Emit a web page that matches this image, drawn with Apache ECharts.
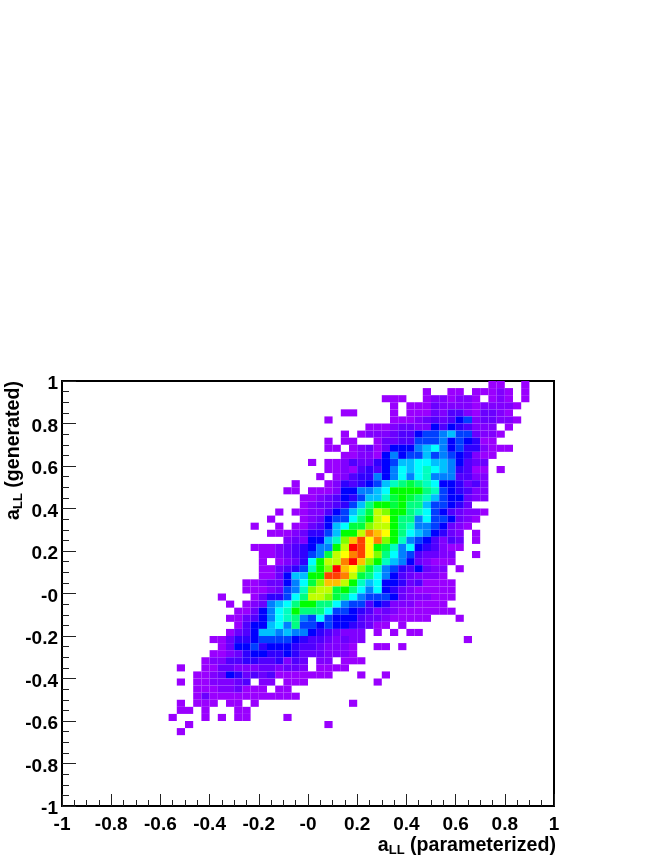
<!DOCTYPE html>
<html>
<head>
<meta charset="utf-8">
<title>aLL</title>
<style>
    html, body { margin: 0; padding: 0; background: #fff; }
    #main { width: 664px; height: 860px; }
</style>
<script src="https://cdn.jsdelivr.net/npm/echarts@6/dist/echarts.min.js"></script>
</head>
<body>
<div id="main"></div>
<script type="text/javascript">
    // tick labels, the original prints -0 rather than 0
    var xTickLabels = ['-1', '-0.8', '-0.6', '-0.4', '-0.2', '-0', '0.2', '0.4', '0.6', '0.8', '1'];
    var yTickLabels = ['-1', '-0.8', '-0.6', '-0.4', '-0.2', '-0', '0.2', '0.4', '0.6', '0.8', '1'];

    var binCount = 60;

    // colour level per bin, 1 (purple) .. l=21 (red)
    var levelColors = ['#9a00ff', '#8000ff', '#6a00ff', '#5000ff', '#3000ff', '#0000ff', '#0040ff',
        '#0080ff', '#00c0ff', '#00ffff', '#00ffc0', '#00ff80', '#00ff40', '#00ff00', '#80ff00',
        '#c0ff00', '#ffff00', '#ffc000', '#ff8000', '#ff4000', '#ff0000'];

    // one entry per row from the top, each run is [first column, levels]
    var binRows = [
        [[52, '11'], [56, '1']],
        [[44, '1'], [47, '11'], [50, '11121'], [56, '1']],
        [[39, '111'], [44, '1221221'], [52, '121'], [56, '1']],
        [[40, '1'], [42, '11132222122221']],
        [[34, '11'], [40, '1'], [42, '1113244213321']],
        [[32, '1'], [40, '1112343467233221']],
        [[37, '1112332264654222'], [54, '1']],
        [[34, '1'], [36, '122234467789773221']],
        [[32, '1'], [34, '11'], [38, '133447778676511']],
        [[32, '11'], [35, '1231366689a867552111']],
        [[34, '1122168677978765211']],
        [[30, '1'], [32, '11243356799aa9986433']],
        [[32, '112145468a9aba985411'], [53, '1']],
        [[31, '1'], [33, '12455868a8ab8884422']],
        [[28, '1'], [32, '12545679bcdcba665342']],
        [[27, '11'], [30, '111266889aeeeecb765422']],
        [[29, '1123465799bdedcb9766322']],
        [[29, '12334579ceedecc977653']],
        [[26, '1'], [28, '11224679bdgfeecba7643221']],
        [[25, '1'], [29, '123677aceghecc8a776321']],
        [[23, '1'], [26, '1'], [28, '113469addfggecb8876321']],
        [[25, '111235579eegjiheca986532'], [50, '1']],
        [[27, '232669bfikhjfeb8764243'], [50, '1']],
        [[23, '1112345688eglkhedb8a654211']],
        [[24, '11234578dghjkhfca8743322'], [50, '1']],
        [[24, '1'], [26, '1235aeggjlifeb98632111']],
        [[24, '113457beflihfdb87546322'], [48, '1']],
        [[24, '113699eekkjgdca86432221']],
        [[22, '1123368adfiigeb9a665341111']],
        [[22, '1112378bfggdeca8a653211111']],
        [[19, '1'], [23, '13557acggfdca877763222111']],
        [[20, '1'], [22, '12389aceecca8774652221111']],
        [[21, '11368abeccca776542321111111']],
        [[20, '113468abc87a7666433211111'], [48, '1']],
        [[21, '14669a8c77676654311'], [41, '1']],
        [[20, '13469989886543222'], [38, '1'], [40, '1'], [42, '11']],
        [[18, '1135567777654432322'], [49, '1']],
        [[19, '13667566654432221'], [38, '11'], [41, '1']],
        [[18, '112356655653332221']],
        [[17, '1224455445243'], [31, '22'], [34, '111']],
        [[14, '1'], [17, '1133222332332'], [31, '1111']],
        [[16, '11236534341111111'], [36, '1'], [39, '1']],
        [[14, '1'], [16, '1122234'], [24, '22'], [27, '111'], [38, '1']],
        [[16, '111223111'], [26, '11']],
        [[16, '1311111111111']],
        [[14, '1'], [16, '111'], [20, '11'], [23, '1'], [35, '1']],
        [[14, '11'], [17, '1'], [21, '11']],
        [[13, '1'], [17, '1'], [19, '1'], [21, '11'], [27, '1']],
        [[15, '1'], [32, '1']],
        [[14, '1']]
    ];

    var binSize = 2 / binCount;
    var cells = [];
    for (var r = 0; r < binRows.length; r++) {
        for (var k = 0; k < binRows[r].length; k++) {
            var run = binRows[r][k];
            for (var c = 0; c < run[1].length; c++) {
                cells.push([-1 + (run[0] + c) * binSize, 1 - (r + 1) * binSize, parseInt(run[1].charAt(c), 36)]);
            }
        }
    }

    var fontName = '"Liberation Sans", Arial, sans-serif';
    var myChart = echarts.init(document.getElementById('main'), null, {renderer: 'canvas'});

    function axisNameRich() {
        return {
            a: {fontFamily: fontName, fontWeight: 'bold', fontSize: 19.6, color: '#000'},
            s: {fontFamily: fontName, fontWeight: 'bold', fontSize: 13, color: '#000', verticalAlign: 'bottom', padding: [10, 0, 0, 0]}
        };
    }

    var option = {
        animation: false,
        backgroundColor: '#fff',
        grid: {
            left: 62, top: 381, width: 492, height: 425,
            show: true, borderColor: '#000', borderWidth: 2, backgroundColor: 'transparent'
        },
        visualMap: {
            show: false, type: 'continuous', dimension: 2, seriesIndex: 0,
            min: 1, max: levelColors.length,
            inRange: {color: levelColors}
        },
        xAxis: {
            type: 'value', min: -1, max: 1, interval: 0.2,
            splitLine: {show: false},
            axisLine: {onZero: false, lineStyle: {color: '#000', width: 2}},
            axisTick: {inside: true, length: 12, lineStyle: {color: '#222', width: 1}},
            minorTick: {show: true, splitNumber: 4, length: 6, lineStyle: {color: '#222', width: 1}},
            minorSplitLine: {show: false},
            axisLabel: {
                margin: 9, color: '#000', fontFamily: fontName, fontWeight: 'bold', fontSize: 19,
                showMinLabel: true, showMaxLabel: true, hideOverlap: false,
                formatter: function (value, index) { return xTickLabels[index]; }
            },
            name: '{a|a}{s|LL}{a| (parameterized)}',
            nameLocation: 'end', nameGap: 2,
            nameTextStyle: {align: 'right', verticalAlign: 'top', padding: [28, 0, 0, 0], rich: axisNameRich()}
        },
        yAxis: {
            type: 'value', min: -1, max: 1, interval: 0.2,
            splitLine: {show: false},
            axisLine: {onZero: false, lineStyle: {color: '#000', width: 2}},
            axisTick: {inside: true, length: 14, lineStyle: {color: '#222', width: 1}},
            minorTick: {show: true, splitNumber: 4, length: 7, lineStyle: {color: '#222', width: 1}},
            minorSplitLine: {show: false},
            axisLabel: {
                margin: 4, color: '#000', fontFamily: fontName, fontWeight: 'bold', fontSize: 19,
                showMinLabel: true, showMaxLabel: true, hideOverlap: false,
                verticalAlign: 'top', lineHeight: 6,
                formatter: function (value, index) { return yTickLabels[index]; }
            },
            name: '{a|a}{s|LL}{a| (generated)}',
            nameLocation: 'end', nameRotate: 90, nameGap: 0,
            nameTextStyle: {align: 'right', verticalAlign: 'bottom', padding: [0, 0, 37, 0], rich: axisNameRich()}
        },
        series: [
            {
                type: 'custom',
                coordinateSystem: 'cartesian2d',
                clip: true,
                silent: true,
                data: cells,
                encode: {x: 0, y: 1},
                renderItem: function (params, api) {
                    var p0 = api.coord([api.value(0), api.value(1) + binSize]);
                    var p1 = api.coord([api.value(0) + binSize, api.value(1)]);
                    return {
                        type: 'rect',
                        shape: {x: p0[0], y: p0[1], width: p1[0] - p0[0], height: p1[1] - p0[1]},
                        style: {fill: api.visual('color')}
                    };
                }
            }
        ]
    };

    myChart.setOption(option);
</script>
</body>
</html>
